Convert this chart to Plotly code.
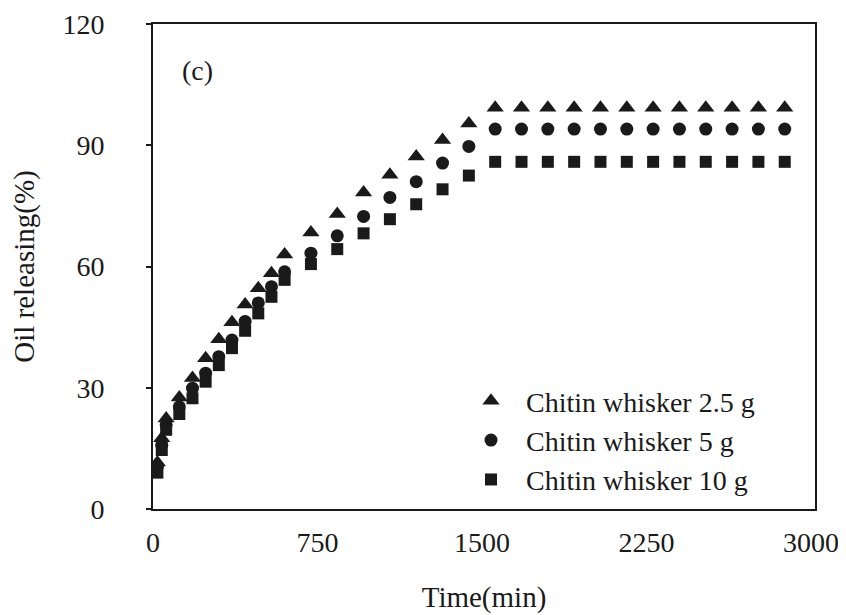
import plotly.graph_objects as go

time_min = [20, 40, 60, 120, 180, 240, 300, 360, 420, 480, 540, 600, 720,
            840, 960, 1080, 1200, 1320, 1440,
            1560, 1680, 1800, 1920, 2040, 2160, 2280, 2400, 2520, 2640, 2760, 2880]

whisker_2_5g = [11.5, 17.5, 22.4, 27.6, 32.4, 37.3, 42.0, 46.2, 50.6, 54.6, 58.3, 63.0, 68.4,
                73.0, 78.3, 82.7, 87.2, 91.3, 95.4,
                99.3, 99.3, 99.3, 99.3, 99.3, 99.3, 99.3, 99.3, 99.3, 99.3, 99.3, 99.3]

whisker_5g = [10.5, 15.8, 20.8, 25.3, 29.9, 33.6, 37.7, 41.8, 46.4, 51.0, 55.0, 58.7, 63.3,
              67.6, 72.4, 77.1, 81.0, 85.6, 89.7,
              94.0, 94.0, 94.0, 94.0, 94.0, 94.0, 94.0, 94.0, 94.0, 94.0, 94.0, 94.0]

whisker_10g = [9.0, 14.6, 19.6, 23.5, 27.4, 31.5, 35.6, 39.8, 44.1, 48.4, 52.5, 56.7, 60.6,
               64.3, 68.2, 71.7, 75.4, 79.1, 82.5,
               85.9, 85.9, 85.9, 85.9, 85.9, 85.9, 85.9, 85.9, 85.9, 85.9, 85.9, 85.9]

series_names = ["Chitin whisker 2.5 g", "Chitin whisker 5 g", "Chitin whisker 10 g"]
x_ticks = [0, 750, 1500, 2250, 3000]
y_ticks = [0, 30, 60, 90, 120]

FONT = "Liberation Serif, Times New Roman, serif"
INK = "#1a1a1a"

fig = go.Figure()
fig.add_trace(go.Scatter(x=time_min, y=whisker_2_5g, mode="markers", name=series_names[0],
                         marker=dict(symbol="triangle-up", size=15, color=INK)))
fig.add_trace(go.Scatter(x=time_min, y=whisker_5g, mode="markers", name=series_names[1],
                         marker=dict(symbol="circle", size=13, color=INK)))
fig.add_trace(go.Scatter(x=time_min, y=whisker_10g, mode="markers", name=series_names[2],
                         marker=dict(symbol="square", size=12, color=INK)))

# page body has an 8px margin, so the figure is sized 8px smaller
fig.update_layout(
    width=838, height=607,
    margin=dict(l=145, r=31, t=16, b=106, autoexpand=False),
    paper_bgcolor="white", plot_bgcolor="white",
    font=dict(family=FONT, size=28, color=INK),
    showlegend=True,
    legend=dict(x=0.4577, y=0.2743, xanchor="left", yanchor="top",
                bgcolor="rgba(0,0,0,0)", font=dict(size=28, family=FONT, color=INK),
                itemwidth=60, tracegroupgap=0),
    annotations=[dict(text="(c)", x=0.0675, y=0.905, xref="paper", yref="paper",
                      xanchor="center", yanchor="middle", showarrow=False,
                      font=dict(size=28, family=FONT, color=INK))],
)
fig.update_xaxes(range=[0, 3018], tickvals=x_ticks, ticks="", showgrid=False, zeroline=False,
                 showline=True, linecolor=INK, linewidth=2, mirror=True, automargin=False,
                 ticklabelstandoff=7,
                 title=dict(text="Time(min)", font=dict(size=29, family=FONT), standoff=30))
fig.update_yaxes(range=[0, 120], tickvals=y_ticks, ticks="outside", ticklen=5, tickwidth=1.5,
                 tickcolor=INK, showgrid=False, zeroline=False,
                 showline=True, linecolor=INK, linewidth=2, mirror=True, automargin=False,
                 ticklabelstandoff=36,
                 title=dict(text="Oil releasing(%)", font=dict(size=29, family=FONT), standoff=23))

fig.write_html("out.html")
